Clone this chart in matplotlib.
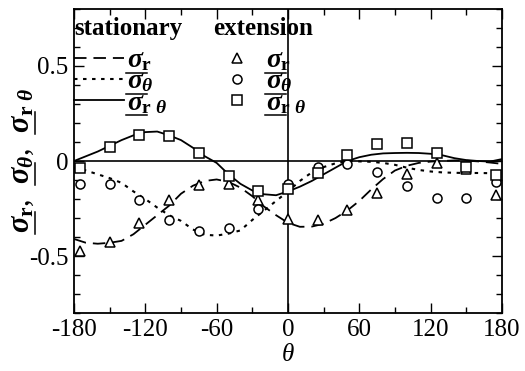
import matplotlib
matplotlib.use("Agg")
import matplotlib.pyplot as plt
from matplotlib.ticker import MultipleLocator
from matplotlib.lines import Line2D
from matplotlib.transforms import IdentityTransform

plt.rcParams['font.family'] = ['Liberation Serif', 'DejaVu Serif']
plt.rcParams['mathtext.fontset'] = 'custom'
plt.rcParams['mathtext.rm'] = 'Liberation Serif:bold'
plt.rcParams['mathtext.it'] = 'Liberation Serif:italic:bold'
plt.rcParams['mathtext.bf'] = 'Liberation Serif:bold'
plt.rcParams['axes.unicode_minus'] = False
plt.rcParams['lines.scale_dashes'] = False

# ---- data ----
theta_line = [-180, -170, -160, -150, -140, -130, -120, -110, -100, -90, -80, -70, -60,
              -50, -40, -30, -20, -10, 0, 10, 20, 30, 40, 50, 60, 70, 80, 90, 100,
              110, 120, 130, 140, 150, 160, 170, 180]
stat_r = [-0.41, -0.43, -0.435, -0.43, -0.42, -0.385, -0.335, -0.285, -0.235, -0.172,
          -0.13, -0.105, -0.097, -0.11, -0.14, -0.185, -0.24, -0.285, -0.325, -0.346,
          -0.345, -0.33, -0.3, -0.26, -0.21, -0.15, -0.095, -0.05, -0.025, -0.01,
          -0.003, 0.0, 0.003, 0.002, -0.002, -0.008, -0.015]
stat_t = [-0.035, -0.05, -0.07, -0.09, -0.115, -0.16, -0.2, -0.245, -0.285, -0.315,
          -0.36, -0.388, -0.392, -0.382, -0.365, -0.31, -0.26, -0.21, -0.16, -0.105,
          -0.06, -0.032, -0.012, 0.0, -0.002, -0.004, -0.01, -0.02, -0.035, -0.047,
          -0.055, -0.06, -0.062, -0.063, -0.063, -0.064, -0.065]
stat_rt = [0.0, 0.025, 0.05, 0.08, 0.11, 0.135, 0.152, 0.155, 0.135, 0.11, 0.07, 0.025,
           -0.01, -0.07, -0.12, -0.155, -0.175, -0.18, -0.16, -0.135, -0.105, -0.07,
           -0.035, 0.0, 0.02, 0.033, 0.04, 0.042, 0.043, 0.042, 0.038, 0.03, 0.015,
           0.005, 0.0, -0.003, 0.01]

theta_ext = [-175, -150, -125, -100, -75, -50, -25, 0, 25, 50, 75, 100, 125, 150, 175]
ext_r = [-0.475, -0.428, -0.328, -0.207, -0.125, -0.122, -0.203, -0.306, -0.308, -0.258,
         -0.168, -0.067, -0.01, -0.04, -0.181]
ext_t = [-0.119, -0.119, -0.204, -0.31, -0.367, -0.353, -0.252, -0.12, -0.03, -0.016,
         -0.057, -0.131, -0.195, -0.195, -0.11]
ext_rt = [-0.039, 0.073, 0.137, 0.129, 0.041, -0.08, -0.158, -0.145, -0.062, 0.032,
          0.088, 0.094, 0.041, -0.03, -0.074]

xticks = [-180, -120, -60, 0, 60, 120, 180]
xticklabels = ['-180', '-120', '-60', '0', '60', '120', '180']
yticks = [-0.5, 0, 0.5]
yticklabels = ['-0.5', '0', '0.5']

SIG = r'$\sigma$'
lab_r = r'$\sigma_{\mathrm{r}}$'
lab_t = r'$\sigma_{\theta}$'
lab_rt = r'$\sigma_{\mathrm{r}\ \theta}$'
ylab_pieces = [lab_r, ',  ', lab_t, ',  ', lab_rt]

LEG_FS = 20
YLAB_FS = 22

fig = plt.figure(figsize=(5.25, 3.71), dpi=100)
ax = fig.add_axes([0.141, 0.156, 0.815, 0.820])

ax.axhline(0, color='black', lw=1.2, zorder=1)
ax.axvline(0, color='black', lw=1.2, zorder=1)

l1, = ax.plot(theta_line, stat_r, color='black', lw=1.3, dashes=(9, 5))
l2, = ax.plot(theta_line, stat_t, color='black', lw=1.5, dashes=(2.5, 4))
l3, = ax.plot(theta_line, stat_rt, color='black', lw=1.3)

mk = dict(ls='none', mfc='white', mec='black', mew=1.1, color='black', clip_on=False, zorder=3)
m1, = ax.plot(theta_ext, ext_r, marker='^', ms=7, **mk)
m2, = ax.plot(theta_ext, ext_t, marker='o', ms=6.5, **mk)
m3, = ax.plot(theta_ext, ext_rt, marker='s', ms=6.5, **mk)

ax.set_xlim(-180, 180)
ax.set_ylim(-0.8, 0.8)
ax.set_xticks(xticks)
ax.set_xticklabels(xticklabels)
ax.set_yticks(yticks)
ax.set_yticklabels(yticklabels)
ax.xaxis.set_minor_locator(MultipleLocator(30))
ax.yaxis.set_minor_locator(MultipleLocator(0.1))
ax.tick_params(which='both', direction='in', top=True, right=True, labelsize=18, width=1.0)
ax.tick_params(which='major', length=7, pad=4)
ax.tick_params(which='minor', length=4)
for sp in ax.spines.values():
    sp.set_linewidth(1.3)

ax.set_xlabel('θ', fontsize=18, style='italic', family=['Liberation Serif', 'DejaVu Serif'])
ax.xaxis.set_label_coords(0.5, -0.10)

ax.set_ylabel(''.join(ylab_pieces), fontsize=YLAB_FS)
ax.yaxis.set_label_coords(-0.09, 0.50)

leg_kw = dict(loc='upper left', frameon=False, fontsize=LEG_FS,
              title_fontproperties={'weight': 'bold', 'size': 18},
              alignment='left', borderpad=0, borderaxespad=0, labelspacing=-0.15)
leg1 = ax.legend([l1, l2, l3], [lab_r, lab_t, lab_rt], title='stationary',
                 bbox_to_anchor=(0.0, 0.975), handlelength=1.8, handletextpad=0.1, **leg_kw)
leg1._legend_box.sep = 6
ax.add_artist(leg1)
leg2 = ax.legend([m1, m2, m3], [lab_r, lab_t, lab_rt], title='extension',
                 bbox_to_anchor=(0.325, 0.975), handlelength=1.7, handletextpad=0.2, **leg_kw)
leg2._legend_box.sep = 6

# ---- underline the sigma symbols ----
fig.canvas.draw()
renderer = fig.canvas.get_renderer()


def text_width(s, fs):
    t = fig.text(0, 0, s, fontsize=fs)
    w = t.get_window_extent(renderer).width
    t.remove()
    return w


def add_px_line(xs, ys):
    fig.add_artist(Line2D(xs, ys, transform=IdentityTransform(), color='black', lw=1.1))


w_leg = text_width(SIG, LEG_FS)
for leg in (leg1, leg2):
    for t in leg.get_texts():
        bb = t.get_window_extent(renderer)
        y = bb.y0 + 0.5
        add_px_line([bb.x0 - 1, bb.x0 + w_leg + 3], [y, y])

w_y = text_width(SIG, YLAB_FS)
bb = ax.yaxis.label.get_window_extent(renderer)
prefix = ''
for p in ylab_pieces:
    if p.startswith('$'):
        off = text_width(prefix + SIG, YLAB_FS) - w_y if prefix else 0.0
        x = bb.x1 - 1.0
        add_px_line([x, x], [bb.y0 + off - 1, bb.y0 + off + w_y + 2])
    prefix += p

fig.savefig('out.png', dpi=100)
